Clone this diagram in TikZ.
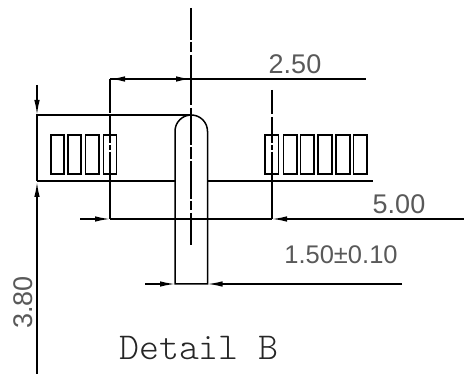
\documentclass[tikz,border=0pt]{standalone}
\usepackage{fontspec}
\setsansfont{Liberation Sans}
\usetikzlibrary{arrows.meta}
\tikzset{
  part/.style={line width=1.5pt,black},
  pad/.style={line width=1.4pt,black},
  dimline/.style={line width=1.4pt,black},
  tipped/.style={dimline,-{Latex[length=15pt,width=5.5pt]}},
  dimtext/.style={inner sep=0pt,text=black!65,font=\sffamily\fontsize{27}{27}\selectfont},
  tolerance text/.style={dimtext,font=\sffamily\fontsize{25.5}{25.5}\selectfont},
  caption/.style={inner sep=0pt,text=black!85,font=\ttfamily\fontseries{l}\fontsize{38}{38}\selectfont}
}
\begin{document}
\begin{tikzpicture}[x=1pt,y=-1pt]
\useasboundingbox (0,0) rectangle (464,374);
% anchors
\coordinate (cT) at (191,8);
\coordinate (cB) at (191,245);
\coordinate (dimL) at (110,79);
\coordinate (dimC) at (191,79);
\coordinate (dimR) at (366,79);
\coordinate (lowL) at (80,219);
\coordinate (lowA) at (110,219);
\coordinate (lowB) at (272,219);
\coordinate (lowR) at (464,219);
% body outline
\draw[part] (37,181) -- (37,115) -- (191,115);
\draw[part] (37,181) -- (175,181);
\draw[part] (207.5,181) -- (372.5,181);
% pin
\draw[part] (175,284) -- (175,131.25) arc[start angle=180,end angle=360,radius=16.25] -- (207.5,284) -- cycle;
% centre line
\draw[part] (cT) -- (191,40) (191,42) -- (191,52) (191,55) -- (191,105) (191,108) -- (191,145)
  (191,147) -- (191,159) (191,161) -- (191,199) (191,201) -- (191,210) (191,213) -- (cB);
% extension lines
\draw[part] (dimL) -- (110,113.5) (110,116.5) -- (110,143) (110,145) -- (110,150) (110,152) -- (lowA);
\draw[part] (272,90) -- (272,114) (272,117) -- (272,143) (272,145) -- (272,150) (272,152) -- (lowB);
% pads
\foreach \a/\b in {51/64,68/81,85.5/99,103.5/116.5,265/278.5,283.5/297,300.5/314,318/332,336/350,353.5/367}
  \draw[pad] (\a,135) rectangle (\b,174);
% dimension 2.50
\draw[dimline,line width=1.6pt] (dimC) -- (dimR);
\draw[tipped,line width=1.6pt] (dimC) -- (dimL);
\draw[tipped,line width=1.6pt] (dimL) -- (dimC);
% dimension 5.00
\draw[tipped] (lowL) -- (lowA);
\draw[dimline] (lowA) -- (lowB);
\draw[tipped] (lowR) -- (lowB);
% dimension 1.50
\draw[tipped] (145,284) -- (175,284);
\draw[tipped] (402,284) -- (207.5,284);
% dimension 3.80
\draw[tipped] (37,85) -- (37,115);
\draw[tipped] (37,374) -- (37,182);
% texts
\node[dimtext] (t250) at (295,64) {2.50};
\node[dimtext] (t500) at (399,204.5) {5.00};
\node[tolerance text] (t150) at (341,255) {1.50±0.10};
\node[dimtext,rotate=90] (t380) at (23.5,302.5) {3.80};
\node[caption,anchor=base west] (tcap) at (119,360) {Detail B};
\end{tikzpicture}
\end{document}
